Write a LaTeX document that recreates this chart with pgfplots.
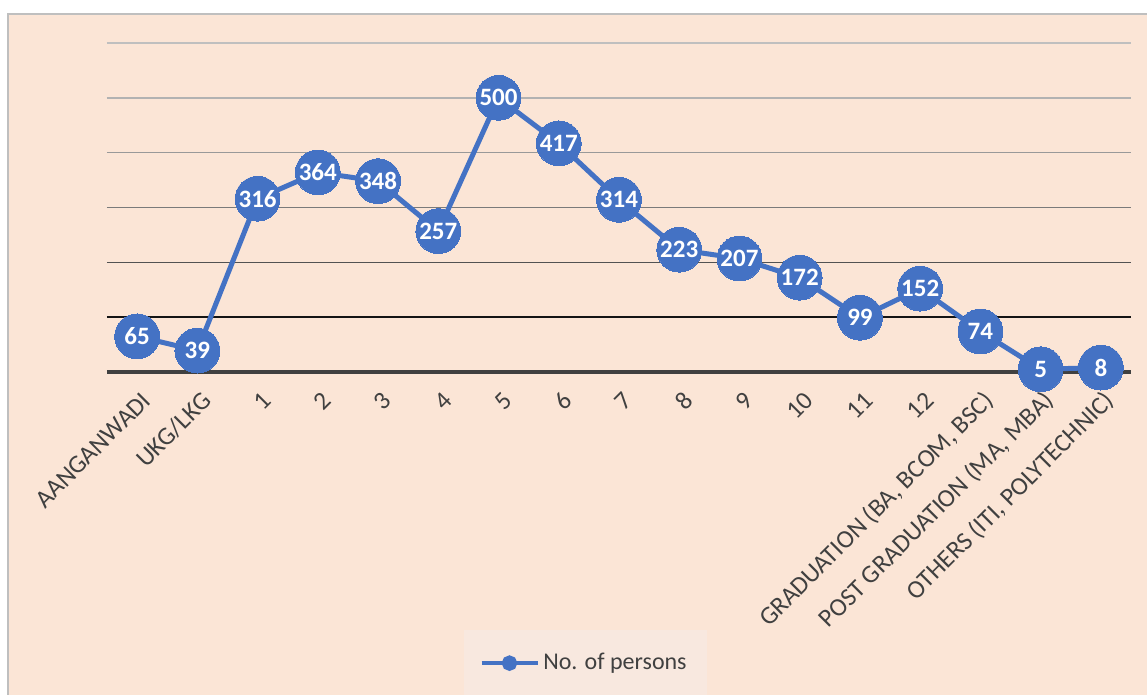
\documentclass[border=0pt]{standalone}
\usepackage{pgfplots}
\pgfplotsset{compat=1.18}
\usepackage{fontspec}
\setmainfont{Carlito}
\definecolor{bg}{HTML}{FBE5D6}
\definecolor{legbg}{HTML}{F8E8DF}
\definecolor{ser}{HTML}{4472C4}
\definecolor{txt}{HTML}{404040}
\begin{document}
\begin{tikzpicture}
\path[use as bounding box] (0,0) rectangle (573.5pt,347.5pt);
\fill[white] (0,0) rectangle (573.5pt,347.5pt);
\begin{scope}
\clip (0,0) rectangle (573.5pt,347.5pt);
\filldraw[fill=bg, draw=gray!50, line width=0.6pt] (4pt,-5pt) rectangle (580pt,340.5pt);
\end{scope}
\begin{axis}[
  at={(53.5pt,161.5pt)}, anchor=south west,
  scale only axis, width=512pt, height=164.5pt,
  xmin=-0.5, xmax=16.5, ymin=0, ymax=600,
  clip=false,
  axis line style={draw=none},
  ytick=\empty,
  xtick={0,...,16},
  major tick length=0pt,
  xticklabels={AANGANWADI,UKG/LKG,1,2,3,4,5,6,7,8,9,10,11,12,{GRADUATION (BA, BCOM, BSC)},{POST GRADUATION (MA, MBA)},{OTHERS (ITI, POLYTECHNIC)}},
  xticklabel style={rotate=45, anchor=east, font=\fontsize{12.7pt}{14pt}\selectfont, text=txt, yshift=-12pt, xshift=-2pt},
  /pgf/number format/assume math mode=true,
  legend style={at={(0.467,-0.885)}, anchor=center, fill=legbg, draw=none,
    font=\fontsize{12pt}{14pt}\selectfont, text=txt, inner xsep=8pt, inner ysep=5pt,
    minimum height=23.5pt},
  legend cell align=left,
]
\addplot[black!25, line width=0.75pt, forget plot] coordinates {(-0.5,600) (16.5,600)};
\addplot[black!30, line width=0.75pt, forget plot] coordinates {(-0.5,500) (16.5,500)};
\addplot[black!40, line width=0.75pt, forget plot] coordinates {(-0.5,400) (16.5,400)};
\addplot[black!52, line width=0.75pt, forget plot] coordinates {(-0.5,300) (16.5,300)};
\addplot[black!68, line width=0.75pt, forget plot] coordinates {(-0.5,200) (16.5,200)};
\addplot[black!92, line width=0.75pt, forget plot] coordinates {(-0.5,100) (16.5,100)};
\addplot[txt, line width=2pt, forget plot] coordinates {(-0.5,0) (16.5,0)};
\addplot[ser, line width=2.5pt, mark=*, mark size=11.2pt, mark options={fill=ser, draw=ser, line width=0pt},
  nodes near coords, every node near coord/.append style={anchor=center, text=white, font=\fontsize{12.5pt}{14pt}\selectfont\bfseries},
  legend image code/.code={\draw[ser, line width=1.75pt] (0pt,0pt) -- (28pt,0pt); \fill[ser] (14pt,0pt) circle (2.6pt);}]
coordinates {(0,65) (1,39) (2,316) (3,364) (4,348) (5,257) (6,500) (7,417) (8,314) (9,223) (10,207) (11,172) (12,99) (13,152) (14,74) (15,5) (16,8)};
\addlegendentry{No. of persons}
\end{axis}
\end{tikzpicture}
\end{document}
